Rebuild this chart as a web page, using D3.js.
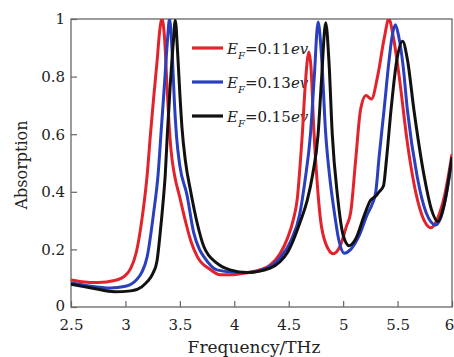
<!DOCTYPE html>
<html><head><meta charset="utf-8">
<script src="https://cdn.jsdelivr.net/npm/d3@7"></script>
<style>body{margin:0;background:#fff}svg{display:block}</style>
</head><body><svg id="c" width="454" height="357"></svg>
<script>
const xTicks = [2.5, 3, 3.5, 4, 4.5, 5, 5.5, 6];
const xTickLabels = ["2.5", "3", "3.5", "4", "4.5", "5", "5.5", "6"];
const yTicks = [0, 0.2, 0.4, 0.6, 0.8, 1];
const yTickLabels = ["0", "0.2", "0.4", "0.6", "0.8", "1"];
const seriesNames = ["0.11", "0.13", "0.15"];

const red011 = [[2.5,0.094],[2.6,0.088],[2.75,0.085],[2.9,0.092],[3.0,0.11],[3.05,0.135],[3.1,0.19],[3.15,0.30],[3.2,0.46],[3.23,0.60],[3.26,0.73],[3.29,0.85],[3.315,0.96],[3.335,1.0],[3.36,0.93],[3.38,0.78],[3.40,0.64],[3.42,0.54],[3.45,0.46],[3.50,0.38],[3.55,0.30],[3.60,0.23],[3.66,0.175],[3.78,0.13],[3.87,0.112],[3.97,0.112],[4.1,0.118],[4.2,0.125],[4.33,0.146],[4.42,0.185],[4.49,0.24],[4.54,0.30],[4.58,0.38],[4.61,0.52],[4.625,0.60],[4.65,0.76],[4.685,0.885],[4.705,0.83],[4.73,0.62],[4.76,0.44],[4.79,0.31],[4.84,0.22],[4.91,0.185],[4.97,0.21],[5.03,0.28],[5.07,0.33],[5.115,0.51],[5.16,0.685],[5.21,0.734],[5.26,0.722],[5.316,0.80],[5.376,0.93],[5.42,1.0],[5.46,0.94],[5.515,0.80],[5.59,0.57],[5.65,0.43],[5.745,0.30],[5.807,0.275],[5.87,0.31],[5.93,0.384],[6.0,0.53]];
const blue013 = [[2.5,0.083],[2.65,0.074],[2.86,0.066],[3.0,0.072],[3.1,0.094],[3.15,0.12],[3.2,0.175],[3.26,0.33],[3.30,0.46],[3.33,0.62],[3.36,0.78],[3.385,0.92],[3.405,1.0],[3.43,0.88],[3.45,0.71],[3.47,0.59],[3.50,0.49],[3.565,0.39],[3.626,0.26],[3.68,0.20],[3.72,0.175],[3.84,0.129],[4.0,0.121],[4.12,0.12],[4.3,0.135],[4.42,0.17],[4.52,0.23],[4.6,0.32],[4.65,0.44],[4.70,0.60],[4.735,0.80],[4.77,0.99],[4.80,0.88],[4.84,0.60],[4.88,0.44],[4.916,0.337],[4.96,0.233],[5.01,0.187],[5.07,0.20],[5.15,0.25],[5.22,0.32],[5.27,0.36],[5.30,0.40],[5.33,0.52],[5.376,0.685],[5.42,0.85],[5.45,0.94],[5.48,0.98],[5.51,0.94],[5.55,0.84],[5.59,0.685],[5.68,0.453],[5.76,0.33],[5.85,0.285],[5.92,0.34],[5.97,0.44],[6.0,0.52]];
const black015 = [[2.5,0.079],[2.7,0.065],[2.9,0.053],[3.05,0.056],[3.15,0.07],[3.2,0.088],[3.25,0.115],[3.29,0.16],[3.32,0.26],[3.345,0.36],[3.366,0.46],[3.385,0.60],[3.41,0.76],[3.44,0.92],[3.458,0.995],[3.48,0.88],[3.50,0.74],[3.52,0.62],[3.55,0.51],[3.60,0.40],[3.66,0.29],[3.72,0.21],[3.84,0.152],[3.96,0.129],[4.12,0.12],[4.33,0.135],[4.42,0.157],[4.49,0.19],[4.61,0.30],[4.67,0.37],[4.72,0.46],[4.77,0.60],[4.80,0.78],[4.84,0.987],[4.87,0.85],[4.90,0.60],[4.95,0.38],[5.0,0.25],[5.055,0.213],[5.12,0.24],[5.19,0.314],[5.25,0.37],[5.30,0.385],[5.33,0.40],[5.37,0.42],[5.40,0.52],[5.44,0.685],[5.49,0.85],[5.546,0.923],[5.59,0.86],[5.65,0.685],[5.745,0.453],[5.81,0.34],[5.87,0.297],[5.93,0.36],[6.0,0.52]];

const seriesData = [red011, blue013, black015];
const seriesColors = ["#e3232b", "#2a3fbd", "#111111"];

const svg = d3.select("#c");
const m = {l: 71, t: 19, r: 452, b: 307};
const x = d3.scaleLinear().domain([2.5, 6]).range([m.l, m.r]);
const y = d3.scaleLinear().domain([0, 1]).range([m.b, m.t]);
const axisColor = "#666";
const font = "DejaVu Serif, Liberation Serif, serif";

svg.append("clipPath").attr("id", "clip").append("rect")
  .attr("x", m.l).attr("y", m.t).attr("width", m.r - m.l).attr("height", m.b - m.t);

// axes (ticks inward)
const xAxis = d3.axisBottom(x).tickValues(xTicks).tickSize(-6).tickPadding(12)
  .tickFormat((d, i) => xTickLabels[i]);
const gx = svg.append("g").attr("transform", `translate(0,${m.b})`).call(xAxis);
const yAxis = d3.axisLeft(y).tickValues(yTicks).tickSize(-6).tickPadding(6)
  .tickFormat((d, i) => yTickLabels[i]);
const gy = svg.append("g").attr("transform", `translate(${m.l},0)`).call(yAxis);
[gx, gy].forEach(g => {
  g.attr("font-family", null).attr("font-size", null);
  g.select(".domain").remove();
  g.selectAll("line").attr("stroke", axisColor).attr("stroke-width", 1.2);
  g.selectAll("text").attr("fill", "#222").attr("font-family", font).attr("font-size", 15);
});
gx.selectAll("text").attr("dy", "0.72em");
gx.selectAll("text").filter((d, i) => i === xTicks.length - 1).attr("x", -3);
gy.selectAll("text").filter((d, i) => i === 0).attr("dy", "0.2em");

// frame
svg.append("rect").attr("x", m.l).attr("y", m.t).attr("width", m.r - m.l).attr("height", m.b - m.t)
  .attr("fill", "none").attr("stroke", axisColor).attr("stroke-width", 1.3);

// axis titles
svg.append("text").attr("x", 254).attr("y", 353).attr("text-anchor", "middle")
  .attr("font-family", font).attr("font-size", 17).attr("fill", "#222").text("Frequency/THz");
svg.append("text").attr("transform", "translate(27,165) rotate(-90)").attr("text-anchor", "middle")
  .attr("font-family", font).attr("font-size", 16).attr("fill", "#222").text("Absorption");

// legend
const legRows = [48, 82, 116];
seriesNames.forEach((n, i) => {
  const ly = legRows[i];
  svg.append("line").attr("x1", 192).attr("x2", 223).attr("y1", ly).attr("y2", ly)
    .attr("stroke", seriesColors[i]).attr("stroke-width", 3.2);
  const t = svg.append("text").attr("x", 227).attr("y", ly + 6)
    .attr("font-family", font).attr("font-size", 15).attr("fill", "#222");
  t.append("tspan").attr("font-style", "italic").text("E");
  t.append("tspan").attr("font-style", "italic").attr("font-size", 10).attr("dy", 5).text("F");
  t.append("tspan").attr("dy", -5).text("=" + n);
  t.append("tspan").attr("font-style", "italic").text("ev");
});

// curves
const line = d3.line().x(d => x(d[0])).y(d => y(d[1])).curve(d3.curveMonotoneX);
const gc = svg.append("g").attr("clip-path", "url(#clip)");
seriesData.forEach((s, i) => {
  gc.append("path").datum(s).attr("d", line).attr("fill", "none")
    .attr("stroke", seriesColors[i]).attr("stroke-width", 3).attr("stroke-linejoin", "round");
});
</script></body></html>
